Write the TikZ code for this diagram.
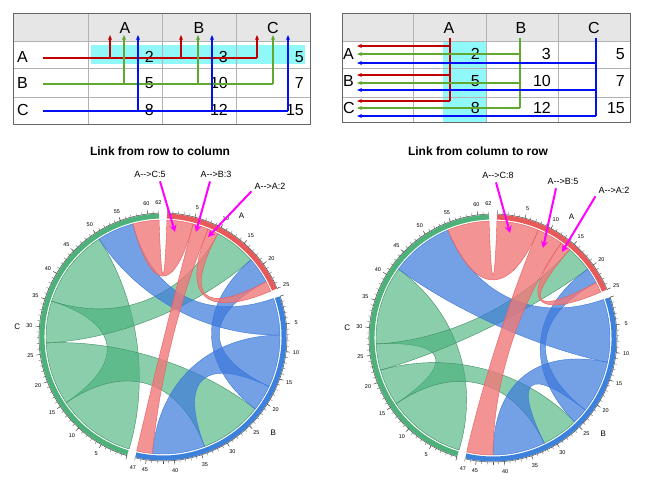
\documentclass[tikz,border=0pt]{standalone}
\usepackage{fontspec}
\setmainfont{Liberation Sans}
\usetikzlibrary{arrows.meta}
\definecolor{cA}{HTML}{E85A5A}
\definecolor{cB}{HTML}{3C82DC}
\definecolor{cC}{HTML}{4CB27A}
\definecolor{fA}{HTML}{F07878}
\definecolor{fB}{HTML}{3A78DC}
\definecolor{fC}{HTML}{45B078}
\definecolor{lr}{HTML}{C00000}
\definecolor{lg}{HTML}{60A830}
\definecolor{lb}{HTML}{0010F0}
\definecolor{cy}{HTML}{90F8F8}
\definecolor{hd}{HTML}{E6E6E6}
\definecolor{mgc}{HTML}{FF00FF}
\def\offA{88.07}\def\offB{19.2}\def\offC{-106.87}
\def\Rc{117}
\newcommand\rib[7]{%
 \pgfmathsetmacro\ta{\csname off#2\endcsname-2.6*#3}%
 \pgfmathsetmacro\tb{\csname off#2\endcsname-2.6*#4}%
 \pgfmathsetmacro\tc{\csname off#5\endcsname-2.6*#6}%
 \pgfmathsetmacro\td{\csname off#5\endcsname-2.6*#7}%
 \filldraw[#1] (\ta:\Rc) arc[start angle=\ta,end angle=\tb,radius=\Rc]
  .. controls (\tb:45) and (\tc:45) .. (\tc:\Rc)
  arc[start angle=\tc,end angle=\td,radius=\Rc]
  .. controls (\td:45) and (\ta:45) .. cycle;}
\newcommand\ringseg[3]{% name, total, color
 \pgfmathsetmacro\sa{\csname off#1\endcsname}%
 \pgfmathsetmacro\ea{\csname off#1\endcsname-2.6*#2}%
 \draw[line width=5pt,#3] (\sa:121) arc[start angle=\sa,end angle=\ea,radius=121];
 \draw[line width=0.5pt,black!70] (\sa:124) arc[start angle=\sa,end angle=\ea,radius=124];
 \foreach \k in {0,...,#2}{\pgfmathsetmacro\t{\csname off#1\endcsname-2.6*\k}
   \draw[black!70,line width=0.3pt] (\t:124) -- (\t:126.5);}
 \foreach \k in {0,5,...,#2}{\pgfmathsetmacro\t{\csname off#1\endcsname-2.6*\k}
   \draw[black!70,line width=0.4pt] (\t:124) -- (\t:128);
   \ifnum\k>0 \node[lab] at (\t:134) {\k};\fi}
 \pgfmathtruncatemacro\rem{mod(#2,5)}%
 \ifnum\rem>0 \node[lab] at (\ea:134) {#2};\fi}
\tikzset{
 lab/.style={font=\fontsize{5.5}{6}\selectfont,inner sep=0pt},
 ra/.style={fill=fA,fill opacity=.8,draw=cA,line width=.4pt},
 ba/.style={fill=fB,fill opacity=.7,draw=fB,line width=.4pt},
 ga/.style={fill=fC,fill opacity=.62,draw=cC!80!black,line width=.4pt},
 cell/.style={draw=black!30,line width=.5pt},
 tx/.style={font=\fontsize{16}{17}\selectfont,inner sep=0pt},
 ttl/.style={font=\bfseries\fontsize{12}{14}\selectfont},
 call/.style={font=\fontsize{9}{10}\selectfont,inner sep=1pt},
 mg/.style={mgc,line width=2pt,-{Stealth[length=7pt,width=7pt]}},
 ln/.style={line width=1.4pt},
 la/.style={line width=1.4pt,-{Stealth[length=5pt,width=4pt]}}
}
\begin{document}
\begin{tikzpicture}[x=1pt,y=-1pt]
\useasboundingbox[fill=white] (0,0) rectangle (650,482);
% ===== left table
\fill[hd] (13,13) rectangle (310,41);
\fill[cy] (91,45) rectangle (305,64);
\foreach \x in {13,88,162,236,310} \draw[cell] (\x,13) -- (\x,124);
\foreach \y in {13,41,68,97,124} \draw[cell] (13,\y) -- (310,\y);
\draw[black!60,line width=.8pt] (13,13) rectangle (310,124);
\node[tx] (lhA) at (125,28) {A}; \node[tx] (lhB) at (199,28) {B}; \node[tx] (lhC) at (273,28) {C};
\node[tx,anchor=west] (lrA) at (17,57) {A}; \node[tx,anchor=west] (lrB) at (17,83) {B}; \node[tx,anchor=west] (lrC) at (17,110) {C};
\foreach \v/\x/\y [count=\i] in {2/154/57,3/228/57,5/304/57,5/154/83,10/228/83,7/304/83,8/154/110,12/228/110,15/304/110}
  \node[tx,anchor=east] (lv\i) at (\x,\y) {\v};
\coordinate (r0) at (43,58); \coordinate (g0) at (43,84); \coordinate (b0) at (43,111);
\draw[ln,lr] (r0) -- (257,58);
\foreach \x in {110,181,257} \draw[la,lr] (\x,58) -- (\x,35);
\draw[ln,lg] (g0) -- (273,84);
\foreach \x in {124,198,273} \draw[la,lg] (\x,84) -- (\x,35);
\draw[ln,lb] (b0) -- (288,111);
\foreach \x in {138,212,288} \draw[la,lb] (\x,111) -- (\x,35);
% ===== right table
\fill[hd] (342,13) rectangle (630,41);
\fill[cy] (443,41) rectangle (486,122);
\foreach \x in {342,413,486,558,630} \draw[cell] (\x,13) -- (\x,122);
\foreach \y in {13,41,68,97,122} \draw[cell] (342,\y) -- (630,\y);
\draw[black!60,line width=.8pt] (342,13) rectangle (630,122);
\node[tx] (rhA) at (449,28) {A}; \node[tx] (rhB) at (521,28) {B}; \node[tx] (rhC) at (594,28) {C};
\node[tx,anchor=west] (rrA) at (343,54) {A}; \node[tx,anchor=west] (rrB) at (343,81) {B}; \node[tx,anchor=west] (rrC) at (343,108) {C};
\foreach \v/\x/\y [count=\i] in {2/480/54,3/551/54,5/625/54,5/480/81,10/551/81,7/625/81,8/480/108,12/551/108,15/625/108}
  \node[tx,anchor=east] (rv\i) at (\x,\y) {\v};
\draw[ln,lr] (450,38) -- (450,101);
\foreach \y in {46,75,101} \draw[la,lr] (450,\y) -- (357,\y);
\draw[ln,lg] (520,38) -- (520,108);
\foreach \y in {54,83,108} \draw[la,lg] (520,\y) -- (357,\y);
\draw[ln,lb] (596,38) -- (596,116);
\foreach \y in {63,90,116} \draw[la,lb] (596,\y) -- (357,\y);
% ===== titles
\node[ttl] (t1) at (160,151) {Link from row to column};
\node[ttl] (t2) at (478,151) {Link from column to row};
% ===== left chord
\begin{scope}[shift={(163,337)},y=1pt]
\rib{ga}{C}{0}{15}{C}{35}{50}
\rib{ga}{C}{15}{27}{B}{22}{34}
\rib{ga}{C}{27}{35}{A}{10}{18}
\rib{ba}{B}{0}{7}{C}{50}{57}
\rib{ba}{B}{7}{17}{B}{34}{44}
\rib{ba}{B}{17}{22}{A}{18}{23}
\rib{ra}{A}{0}{5}{C}{57}{62}
\rib{ra}{A}{5}{8}{B}{44}{47}
\rib{ra}{A}{8}{10}{A}{23}{25}
\ringseg{A}{25}{cA}\ringseg{B}{47}{cB}\ringseg{C}{62}{cC}
\node[font=\fontsize{8}{9}\selectfont] (nA1) at (57:144) {A};
\node[font=\fontsize{8}{9}\selectfont] (nB1) at (-41:146) {B};
\node[font=\fontsize{8}{9}\selectfont] (nC1) at (176:146) {C};
\end{scope}
\node[call] (c1) at (150,174) {A-{}->C:5};
\node[call] (c2) at (216,174) {A-{}->B:3};
\node[call] (c3) at (270,186) {A-{}->A:2};
\coordinate (p1) at (175,232); \coordinate (p2) at (196,232); \coordinate (p3) at (208,237);
\draw[mg] (c1.south) ++(10,3) -- (p1);
\draw[mg] (c2.south) ++(-6,3) -- (p2);
\draw[mg] (c3.south west) ++(-2,1) -- (p3);
% ===== right chord
\begin{scope}[shift={(493,338)},y=1pt]
\rib{ga}{C}{0}{15}{C}{27}{42}
\rib{ga}{C}{15}{22}{B}{25}{32}
\rib{ga}{C}{22}{27}{A}{15}{20}
\rib{ba}{B}{0}{12}{C}{42}{54}
\rib{ba}{B}{12}{22}{B}{32}{42}
\rib{ba}{B}{22}{25}{A}{20}{23}
\rib{ra}{A}{0}{8}{C}{54}{62}
\rib{ra}{A}{8}{13}{B}{42}{47}
\rib{ra}{A}{13}{15}{A}{23}{25}
\ringseg{A}{25}{cA}\ringseg{B}{47}{cB}\ringseg{C}{62}{cC}
\node[font=\fontsize{8}{9}\selectfont] (nA2) at (57:144) {A};
\node[font=\fontsize{8}{9}\selectfont] (nB2) at (-41:146) {B};
\node[font=\fontsize{8}{9}\selectfont] (nC2) at (176:146) {C};
\end{scope}
\node[call] (d1) at (498,175) {A-{}->C:8};
\node[call] (d2) at (563,181) {A-{}->B:5};
\node[call] (d3) at (614,190) {A-{}->A:2};
\coordinate (q1) at (510,233); \coordinate (q2) at (543,248); \coordinate (q3) at (562,252);
\draw[mg] (d1.south) ++(-2,3) -- (q1);
\draw[mg] (d2.south) ++(-7,3) -- (q2);
\draw[mg] (d3.south west) ++(-2,2) -- (q3);
\end{tikzpicture}
\end{document}
